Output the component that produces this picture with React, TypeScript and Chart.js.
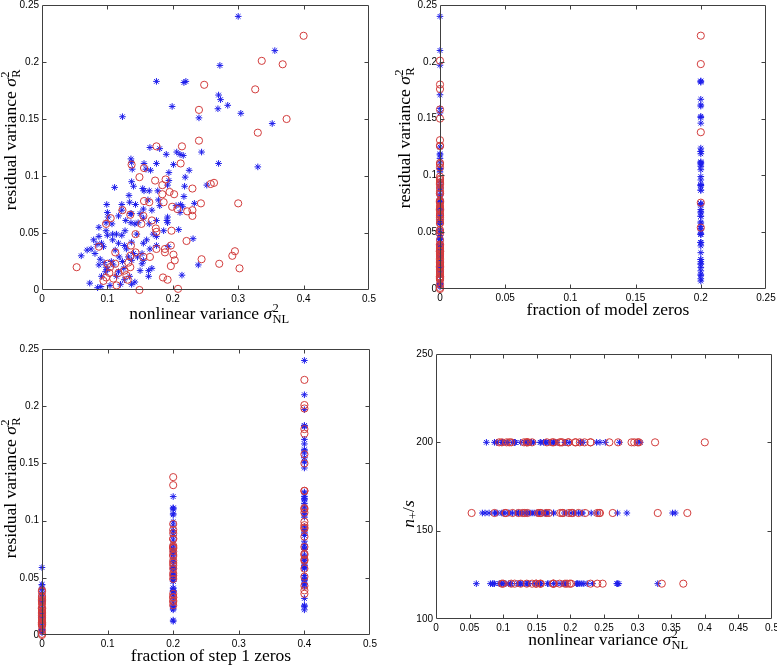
import React, { useEffect, useRef } from "react";
import { Chart, registerables } from "chart.js";
Chart.register(...registerables);

// Each row: [nonlinear variance σ²NL, residual variance σ²R, fraction of model zeros, fraction of step 1 zeros, n+/s]
type Row = [number, number, number, number, number];

const bluePoints: Row[] = [
  [0.300, 0.240, 0, 0.4, 200], [0.356, 0.210, 0, 0.4, 160], [0.272, 0.197, 0, 0.4, 120],
  [0.175, 0.183, 0.2, 0.4, 200], [0.217, 0.182, 0.2, 0.4, 160], [0.220, 0.183, 0.2, 0.4, 120],
  [0.199, 0.161, 0.2, 0.4, 200], [0.123, 0.152, 0.2, 0.4, 160], [0.270, 0.171, 0, 0.4, 160],
  [0.273, 0.167, 0.2, 0.4, 200], [0.284, 0.162, 0.2, 0.4, 160], [0.269, 0.159, 0, 0.4, 120],
  [0.240, 0.151, 0.2, 0.4, 160], [0.304, 0.155, 0, 0.4, 200], [0.352, 0.146, 0.2, 0.4, 160],
  [0.330, 0.108, 0.2, 0.4, 120], [0.270, 0.111, 0.2, 0.2, 120], [0.244, 0.121, 0.2, 0.2, 200],
  [0.225, 0.105, 0, 0.4, 120], [0.219, 0.099, 0.2, 0.2, 200], [0.206, 0.121, 0.2, 0.4, 160],
  [0.211, 0.119, 0, 0.4, 120], [0.216, 0.118, 0, 0.4, 200], [0.190, 0.119, 0.2, 0.4, 120],
  [0.201, 0.110, 0.2, 0.2, 160], [0.180, 0.124, 0.2, 0.4, 200], [0.165, 0.125, 0, 0.4, 160],
  [0.175, 0.111, 0, 0.2, 120], [0.156, 0.111, 0.2, 0.4, 200], [0.159, 0.106, 0, 0.4, 160],
  [0.166, 0.105, 0.2, 0.2, 120], [0.136, 0.115, 0, 0.4, 200], [0.137, 0.112, 0.2, 0.4, 160],
  [0.138, 0.106, 0, 0.2, 120], [0.137, 0.095, 0, 0.4, 200], [0.140, 0.091, 0.2, 0.2, 160],
  [0.111, 0.090, 0, 0.4, 120], [0.164, 0.087, 0.2, 0.2, 200], [0.154, 0.089, 0, 0.4, 160],
  [0.156, 0.087, 0, 0.2, 120], [0.177, 0.087, 0.2, 0.4, 200], [0.194, 0.103, 0, 0.4, 160],
  [0.194, 0.096, 0.2, 0.2, 120], [0.192, 0.092, 0, 0.4, 200], [0.218, 0.091, 0.2, 0.2, 160],
  [0.217, 0.082, 0, 0.4, 120], [0.252, 0.092, 0.2, 0.4, 200], [0.233, 0.076, 0, 0.2, 120],
  [0.212, 0.075, 0.2, 0.4, 160], [0.215, 0.073, 0, 0.2, 200], [0.211, 0.068, 0.2, 0.4, 120],
  [0.205, 0.074, 0, 0.2, 160], [0.178, 0.079, 0, 0.4, 200], [0.180, 0.074, 0.2, 0.2, 120],
  [0.162, 0.079, 0, 0.2, 160], [0.168, 0.070, 0.2, 0.4, 200], [0.155, 0.071, 0, 0.2, 120],
  [0.143, 0.075, 0.2, 0.4, 160], [0.133, 0.083, 0, 0.2, 200], [0.134, 0.077, 0, 0.4, 120],
  [0.135, 0.067, 0.2, 0.2, 160], [0.137, 0.067, 0, 0.4, 200], [0.122, 0.070, 0, 0.2, 120],
  [0.122, 0.075, 0.2, 0.4, 160], [0.099, 0.075, 0, 0.2, 200], [0.100, 0.068, 0, 0.4, 120],
  [0.101, 0.064, 0.2, 0.2, 160], [0.107, 0.058, 0, 0.4, 200], [0.098, 0.059, 0, 0, 120],
  [0.087, 0.055, 0.2, 0.2, 160], [0.117, 0.065, 0, 0.4, 200], [0.128, 0.061, 0, 0.2, 120],
  [0.136, 0.059, 0.2, 0.4, 160], [0.142, 0.058, 0, 0.2, 200], [0.155, 0.063, 0, 0.4, 120],
  [0.164, 0.058, 0.2, 0.2, 160], [0.175, 0.061, 0, 0.4, 200], [0.192, 0.064, 0.2, 0.2, 120],
  [0.191, 0.061, 0, 0.4, 160], [0.192, 0.059, 0, 0.2, 200], [0.186, 0.052, 0.2, 0.4, 120],
  [0.175, 0.047, 0, 0.2, 160], [0.170, 0.049, 0, 0.4, 200], [0.209, 0.053, 0.2, 0.2, 120],
  [0.231, 0.045, 0, 0.4, 160], [0.239, 0.022, 0.2, 0.4, 200], [0.214, 0.013, 0.2, 0.2, 120],
  [0.175, 0.039, 0, 0.2, 160], [0.160, 0.044, 0, 0.4, 200], [0.155, 0.041, 0.2, 0.2, 120],
  [0.165, 0.036, 0, 0, 160], [0.193, 0.038, 0.2, 0.2, 200], [0.153, 0.032, 0, 0.2, 120],
  [0.146, 0.029, 0, 0, 160], [0.155, 0.026, 0.2, 0.4, 200], [0.168, 0.019, 0, 0, 120],
  [0.163, 0.017, 0, 0, 160], [0.163, 0.012, 0.2, 0.2, 200], [0.150, 0.017, 0, 0, 120],
  [0.153, 0.023, 0, 0.2, 160], [0.140, 0.032, 0, 0, 200], [0.137, 0.026, 0.2, 0.2, 120],
  [0.129, 0.036, 0, 0, 160], [0.126, 0.039, 0, 0.2, 200], [0.122, 0.048, 0.2, 0.4, 120],
  [0.127, 0.052, 0, 0.2, 160], [0.114, 0.049, 0, 0.2, 200], [0.108, 0.044, 0, 0, 120],
  [0.100, 0.048, 0.2, 0.4, 160], [0.098, 0.052, 0, 0.2, 200], [0.087, 0.047, 0, 0.2, 120],
  [0.079, 0.044, 0, 0, 160], [0.091, 0.041, 0.2, 0.2, 200], [0.084, 0.040, 0, 0, 120],
  [0.069, 0.035, 0, 0.2, 160], [0.075, 0.036, 0, 0, 200], [0.081, 0.032, 0.2, 0.4, 120],
  [0.089, 0.027, 0, 0, 160], [0.087, 0.022, 0, 0.2, 200], [0.095, 0.024, 0.2, 0, 120],
  [0.098, 0.020, 0, 0, 160], [0.100, 0.018, 0, 0, 200], [0.097, 0.016, 0.2, 0, 120],
  [0.091, 0.012, 0, 0, 160], [0.085, 0.002, 0, 0, 120], [0.090, 0.003, 0, 0, 200],
  [0.073, 0.006, 0, 0, 160], [0.104, 0.004, 0, 0, 120], [0.106, 0.025, 0, 0.2, 200],
  [0.109, 0.022, 0.2, 0, 160], [0.112, 0.035, 0, 0.2, 120], [0.118, 0.029, 0, 0, 200],
  [0.123, 0.025, 0, 0.4, 160], [0.125, 0.019, 0.2, 0, 120], [0.117, 0.016, 0, 0, 200],
  [0.114, 0.012, 0, 0, 160], [0.126, 0.009, 0.2, 0, 120], [0.134, 0.012, 0, 0, 200],
  [0.120, 0.005, 0, 0, 160], [0.137, 0.005, 0, 0, 120], [0.142, 0.007, 0.2, 0, 200],
  [0.108, 0.049, 0, 0.4, 160], [0.094, 0.038, 0, 0.2, 120], [0.117, 0.041, 0.2, 0, 200],
  [0.132, 0.029, 0, 0.2, 160], [0.137, 0.042, 0, 0.4, 120], [0.145, 0.049, 0.2, 0.2, 200],
  [0.150, 0.067, 0, 0.4, 160], [0.147, 0.059, 0, 0.2, 120], [0.060, 0.030, 0, 0, 120],
];

const redPoints: Row[] = [
  [0.400, 0.223, 0.2, 0.4, 200], [0.336, 0.201, 0, 0.4, 120], [0.368, 0.198, 0.2, 0.4, 120],
  [0.248, 0.180, 0, 0.4, 120], [0.326, 0.176, 0, 0.4, 200], [0.240, 0.158, 0, 0.4, 120],
  [0.374, 0.150, 0, 0.4, 160], [0.240, 0.131, 0, 0.2, 160], [0.330, 0.138, 0.2, 0.2, 160],
  [0.214, 0.126, 0, 0.4, 200], [0.175, 0.126, 0, 0.4, 120], [0.212, 0.111, 0, 0.4, 160],
  [0.137, 0.110, 0, 0.4, 200], [0.156, 0.107, 0, 0.4, 160], [0.149, 0.099, 0, 0.4, 120],
  [0.173, 0.096, 0, 0.4, 200], [0.189, 0.097, 0, 0.2, 160], [0.184, 0.092, 0, 0.2, 120],
  [0.258, 0.093, 0, 0.4, 200], [0.263, 0.094, 0, 0.4, 160], [0.230, 0.089, 0, 0.2, 200],
  [0.195, 0.086, 0, 0.4, 120], [0.202, 0.084, 0, 0.2, 160], [0.184, 0.084, 0, 0.2, 200],
  [0.156, 0.078, 0, 0.2, 120], [0.164, 0.077, 0, 0.2, 160], [0.186, 0.077, 0, 0.4, 200],
  [0.243, 0.076, 0, 0.2, 160], [0.300, 0.076, 0.2, 0.2, 200], [0.199, 0.073, 0, 0.2, 120],
  [0.207, 0.071, 0, 0.4, 200], [0.222, 0.069, 0, 0.2, 160], [0.230, 0.070, 0, 0.4, 200],
  [0.230, 0.065, 0, 0.2, 120], [0.123, 0.070, 0, 0.2, 160], [0.105, 0.063, 0, 0.2, 200],
  [0.155, 0.065, 0, 0.4, 120], [0.168, 0.061, 0, 0.2, 160], [0.135, 0.066, 0, 0.4, 200],
  [0.174, 0.054, 0.2, 0.2, 120], [0.175, 0.051, 0, 0.4, 200], [0.198, 0.052, 0, 0.2, 160],
  [0.221, 0.043, 0, 0.4, 200], [0.143, 0.049, 0, 0.2, 120], [0.152, 0.058, 0, 0.4, 160],
  [0.098, 0.058, 0, 0.2, 200], [0.087, 0.038, 0, 0, 160], [0.112, 0.033, 0, 0.2, 120],
  [0.143, 0.033, 0, 0, 200], [0.136, 0.039, 0, 0.4, 160], [0.175, 0.036, 0, 0.2, 120],
  [0.188, 0.036, 0, 0.4, 160], [0.197, 0.039, 0, 0, 200], [0.188, 0.033, 0, 0.2, 200],
  [0.201, 0.031, 0, 0, 120], [0.203, 0.026, 0, 0.2, 160], [0.197, 0.021, 0, 0, 200],
  [0.244, 0.027, 0, 0, 160], [0.271, 0.023, 0, 0, 200], [0.291, 0.030, 0, 0, 200],
  [0.295, 0.034, 0, 0, 200], [0.302, 0.019, 0, 0, 200], [0.185, 0.011, 0, 0, 160],
  [0.192, 0.009, 0, 0, 120], [0.208, 0.001, 0, 0, 200], [0.149, 0.000, 0, 0, 120],
  [0.053, 0.020, 0, 0, 160], [0.165, 0.029, 0, 0.2, 200], [0.155, 0.029, 0, 0, 160],
  [0.135, 0.030, 0, 0.2, 120], [0.132, 0.024, 0, 0, 160], [0.135, 0.020, 0, 0, 200],
  [0.126, 0.017, 0, 0, 120], [0.129, 0.013, 0, 0, 160], [0.131, 0.009, 0, 0, 200],
  [0.117, 0.015, 0, 0, 120], [0.114, 0.004, 0, 0, 160], [0.109, 0.010, 0, 0, 200],
  [0.103, 0.015, 0, 0, 160], [0.098, 0.011, 0, 0, 120], [0.094, 0.008, 0, 0, 200],
  [0.104, 0.020, 0, 0, 160], [0.112, 0.023, 0, 0, 200], [0.100, 0.023, 0, 0, 120],
];

const ticksNL = [0, 0.1, 0.2, 0.3, 0.4, 0.5];
const ticksNLFine = [0, 0.05, 0.1, 0.15, 0.2, 0.25, 0.3, 0.35, 0.4, 0.45, 0.5];
const ticksResidual = [0, 0.05, 0.1, 0.15, 0.2, 0.25];
const ticksModelZeros = [0, 0.05, 0.1, 0.15, 0.2, 0.25];
const ticksStep1Zeros = [0, 0.1, 0.2, 0.3, 0.4, 0.5];
const ticksNPlus = [100, 150, 200, 250];

const SERIF = '"Liberation Serif", "Times New Roman", serif';
const SANS = '"Liberation Sans", Arial, Helvetica, sans-serif';
const BIG = 17.5;
const SMALL = 12.5;

type Seg =
  | { text: string; font: string; dy?: number }
  | { sup: string; sub: string; font: string; supDy: number; subDy: number };

const roman = (t: string): Seg => ({ text: t, font: `${BIG}px ${SERIF}` });
const ital = (t: string): Seg => ({ text: t, font: `italic ${BIG}px ${SERIF}` });
const supsub = (sup: string, sub: string): Seg => ({ sup, sub, font: `${SMALL}px ${SERIF}`, supDy: -7.5, subDy: 4 });

const titleResidual: Seg[] = [roman("residual variance "), ital("σ"), supsub("2", "R")];
const titleNL: Seg[] = [roman("nonlinear variance "), ital("σ"), supsub("2", "NL")];
const titleModelZeros: Seg[] = [roman("fraction of model zeros")];
const titleStep1: Seg[] = [roman("fraction of step 1 zeros")];
const titleNPlus: Seg[] = [ital("n"), { text: "+", font: `${SMALL}px ${SERIF}`, dy: 3 }, roman("/"), ital("s")];

function segWidth(ctx: CanvasRenderingContext2D, s: Seg): number {
  ctx.font = s.font;
  if ("text" in s) return ctx.measureText(s.text).width;
  return Math.max(ctx.measureText(s.sup).width, ctx.measureText(s.sub).width);
}

function drawSegs(ctx: CanvasRenderingContext2D, segs: Seg[], cx: number, base: number) {
  const total = segs.reduce((a, s) => a + segWidth(ctx, s), 0);
  let x = cx - total / 2;
  ctx.textAlign = "left";
  ctx.textBaseline = "alphabetic";
  ctx.fillStyle = "#000";
  for (const s of segs) {
    const w = segWidth(ctx, s);
    ctx.font = s.font;
    if ("text" in s) {
      ctx.fillText(s.text, x, base + (s.dy || 0));
    } else {
      ctx.fillText(s.sup, x + 0.5, base + s.supDy);
      ctx.fillText(s.sub, x + 0.5, base + s.subDy);
    }
    x += w + ("text" in s ? 0 : 1);
  }
}

interface PanelDef {
  left: number; top: number; width: number; height: number;
  plot: [number, number, number, number];
  xCol: number; yCol: number;
  xTicks: number[]; yTicks: number[];
  xTitle: Seg[]; yTitle: Seg[];
  xTitlePos: [number, number];
  yTitlePos: [number, number];
}

const panels: PanelDef[] = [
  { left: 0, top: 0, width: 390, height: 333, plot: [42, 3, 369, 290], xCol: 0, yCol: 1,
    xTicks: ticksNL, yTicks: ticksResidual, xTitle: titleNL, yTitle: titleResidual,
    xTitlePos: [209, 319], yTitlePos: [16, 140] },
  { left: 390, top: 0, width: 387, height: 333, plot: [440, 4, 766, 289], xCol: 2, yCol: 1,
    xTicks: ticksModelZeros, yTicks: ticksResidual, xTitle: titleModelZeros, yTitle: titleResidual,
    xTitlePos: [608, 315], yTitlePos: [410, 138] },
  { left: 0, top: 333, width: 390, height: 333, plot: [42, 349, 370, 635], xCol: 3, yCol: 1,
    xTicks: ticksStep1Zeros, yTicks: ticksResidual, xTitle: titleStep1, yTitle: titleResidual,
    xTitlePos: [211, 661], yTitlePos: [16, 488] },
  { left: 390, top: 333, width: 387, height: 333, plot: [436, 354, 772, 619], xCol: 0, yCol: 4,
    xTicks: ticksNLFine, yTicks: ticksNPlus, xTitle: titleNL, yTitle: titleNPlus,
    xTitlePos: [608, 645], yTitlePos: [414, 514] },
];

const fmt = (v: number | string) => String(parseFloat(Number(v).toFixed(4)));

function Panel({ def }: { def: PanelDef }) {
  const ref = useRef<HTMLCanvasElement | null>(null);
  useEffect(() => {
    if (!ref.current) return;
    const [L, T, R, B] = def.plot;
    const toXY = (rows: Row[]) => rows.map((r) => ({ x: r[def.xCol], y: r[def.yCol] }));
    const framePlugin = {
      id: "frameAndTitles",
      afterDraw(chart: any) {
        const ctx: CanvasRenderingContext2D = chart.ctx;
        const a = chart.chartArea;
        const xs = chart.scales.x;
        const ys = chart.scales.y;
        ctx.save();
        ctx.strokeStyle = "#404040";
        ctx.lineWidth = 1;
        const l = Math.round(a.left) + 0.5, r = Math.round(a.right) - 0.5;
        const t = Math.round(a.top) + 0.5, b = Math.round(a.bottom) - 0.5;
        ctx.beginPath();
        ctx.rect(l, t, r - l, b - t);
        const TL = 4;
        def.xTicks.forEach((v, i) => {
          if (i === 0 || i === def.xTicks.length - 1) return;
          const px = Math.round(xs.getPixelForValue(v)) + 0.5;
          ctx.moveTo(px, b); ctx.lineTo(px, b - TL);
          ctx.moveTo(px, t); ctx.lineTo(px, t + TL);
        });
        def.yTicks.forEach((v, i) => {
          if (i === 0 || i === def.yTicks.length - 1) return;
          const py = Math.round(ys.getPixelForValue(v)) + 0.5;
          ctx.moveTo(l, py); ctx.lineTo(l + TL, py);
          ctx.moveTo(r, py); ctx.lineTo(r - TL, py);
        });
        ctx.stroke();
        drawSegs(ctx, def.xTitle, def.xTitlePos[0] - def.left, def.xTitlePos[1] - def.top);
        ctx.translate(def.yTitlePos[0] - def.left, def.yTitlePos[1] - def.top);
        ctx.rotate(-Math.PI / 2);
        drawSegs(ctx, def.yTitle, 0, 0);
        ctx.restore();
      },
    };
    const tickFont = { family: SANS, size: 10 };
    const chart = new Chart(ref.current, {
      type: "scatter",
      data: {
        datasets: [
          {
            label: "red",
            data: toXY(redPoints),
            pointStyle: "circle",
            pointRadius: 3.6,
            borderWidth: 1,
            borderColor: "rgb(210,60,60)",
            backgroundColor: "rgba(0,0,0,0)",
            clip: false as any,
          },
          {
            label: "blue",
            data: toXY(bluePoints),
            pointStyle: "star",
            pointRadius: 3.3,
            borderWidth: 1,
            borderColor: "rgb(30,30,235)",
            backgroundColor: "rgb(30,30,235)",
            clip: false as any,
          },
        ],
      },
      options: {
        animation: false,
        responsive: false,
        maintainAspectRatio: false,
        events: [],
        layout: { padding: { left: 0, top: T - def.top, right: def.left + def.width - R, bottom: 0 } },
        plugins: { legend: { display: false }, tooltip: { enabled: false }, title: { display: false } },
        scales: {
          x: {
            type: "linear",
            min: def.xTicks[0],
            max: def.xTicks[def.xTicks.length - 1],
            grid: { display: false, drawTicks: false, tickLength: 0 },
            border: { display: false },
            ticks: { font: tickFont, color: "#000", padding: 3, maxRotation: 0, autoSkip: false, callback: (v: any) => fmt(v) },
            afterBuildTicks: (s: any) => { s.ticks = def.xTicks.map((value) => ({ value })); },
            afterFit: (s: any) => { s.height = def.top + def.height - B; s.paddingLeft = 0; s.paddingRight = 0; },
          },
          y: {
            type: "linear",
            min: def.yTicks[0],
            max: def.yTicks[def.yTicks.length - 1],
            grid: { display: false, drawTicks: false, tickLength: 0 },
            border: { display: false },
            ticks: { font: tickFont, color: "#000", padding: 3, autoSkip: false, callback: (v: any) => fmt(v) },
            afterBuildTicks: (s: any) => { s.ticks = def.yTicks.map((value) => ({ value })); },
            afterFit: (s: any) => { s.width = L - def.left; s.paddingTop = 0; s.paddingBottom = 0; },
          },
        },
      } as any,
      plugins: [framePlugin],
    });
    return () => chart.destroy();
  }, [def]);
  return (
    <canvas
      ref={ref}
      width={def.width}
      height={def.height}
      style={{ position: "absolute", left: def.left, top: def.top, width: def.width, height: def.height }}
    />
  );
}

export default function App() {
  return (
    <div style={{ position: "absolute", left: 0, top: 0, width: 777, height: 666, background: "#fff", overflow: "hidden" }}>
      {panels.map((p, i) => (
        <Panel key={i} def={p} />
      ))}
    </div>
  );
}
